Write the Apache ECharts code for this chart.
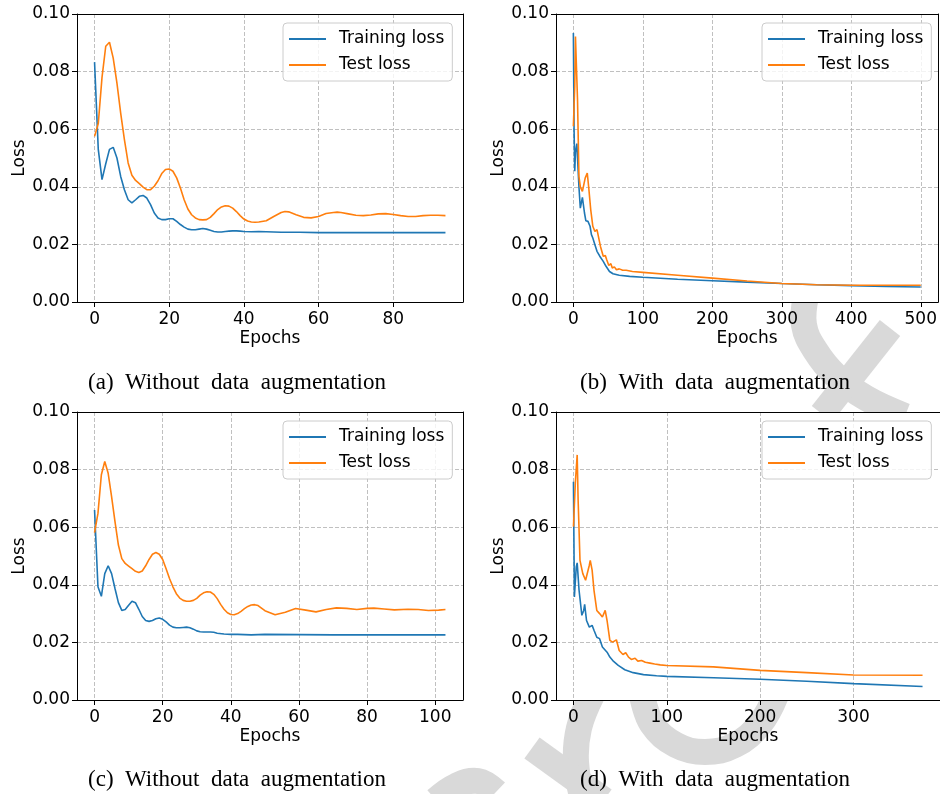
<!DOCTYPE html>
<html>
<head>
<meta charset="utf-8">
<script src="https://cdn.jsdelivr.net/npm/echarts@6/dist/echarts.min.js"></script>
<style>
html, body { margin: 0; padding: 0; background: #fff; }
#main { width: 940px; height: 794px; }
</style>
</head>
<body>
<div id="main"></div>
<script>
var seriesNames = ['Training loss', 'Test loss'];
var captions = ['(a)  Without  data  augmentation', '(b)  With  data  augmentation',
                '(c)  Without  data  augmentation', '(d)  With  data  augmentation'];
var xTicksA = [0, 20, 40, 60, 80];
var xTicksB = [0, 100, 200, 300, 400, 500];
var xTicksC = [0, 20, 40, 60, 80, 100];
var xTicksD = [0, 100, 200, 300];

// (a) no augmentation, 95 epochs
var trainA = [[0,0.0833],[1,0.053],[2,0.0425],[3,0.048],[4,0.053],[5,0.0537],[6,0.050],[7,0.0436],
  [8,0.039],[9,0.0355],[10,0.0344],[11,0.0355],[12,0.0367],[13,0.037],[14,0.0361],[15,0.0338],
  [16,0.0309],[17,0.0292],[18,0.0286],[19,0.0286],[20,0.0289],[21,0.0289],[22,0.028],[23,0.0269],
  [24,0.026],[25,0.0253],[26,0.0251],[27,0.0251],[28,0.0253],[29,0.0255],[30,0.0253],[31,0.0249],
  [32,0.0245],[33,0.0243],[34,0.0243],[35,0.0245],[36,0.0246],[37,0.0247],[38,0.0247],[39,0.0246],
  [40,0.0245],[42,0.0244],[44,0.0245],[46,0.0244],[48,0.0243],[50,0.0242],[55,0.0242],[60,0.0241],
  [70,0.0241],[80,0.0241],[94,0.0241]];
var testA = [[0,0.0575],[1,0.062],[2,0.078],[3,0.0888],[4,0.0902],[5,0.0847],[6,0.076],[7,0.0656],
  [8,0.0564],[9,0.0483],[10,0.044],[11,0.0422],[12,0.0411],[13,0.0399],[14,0.039],[15,0.039],
  [16,0.0402],[17,0.0421],[18,0.0446],[19,0.046],[20,0.0462],[21,0.0454],[22,0.0431],[23,0.0396],
  [24,0.0355],[25,0.0323],[26,0.0303],[27,0.0292],[28,0.0286],[29,0.0285],[30,0.0286],[31,0.0294],
  [32,0.0307],[33,0.0321],[34,0.033],[35,0.0334],[36,0.0333],[37,0.0326],[38,0.0314],[39,0.03],
  [40,0.0288],[41,0.0281],[42,0.0278],[43,0.0277],[44,0.0278],[46,0.0282],[48,0.0297],[50,0.0311],
  [51,0.0314],[52,0.0313],[54,0.0303],[56,0.0294],[58,0.0292],[60,0.0297],[62,0.0307],[64,0.0311],
  [65,0.0312],[66,0.0311],[68,0.0306],[70,0.0301],[72,0.03],[74,0.0302],[76,0.0306],[78,0.0307],
  [80,0.0304],[82,0.03],[84,0.0297],[86,0.0297],[88,0.03],[90,0.0301],[92,0.0301],[94,0.03]];

// (b) with augmentation, 500 epochs
var trainB = [[0,0.0934],[1,0.06],[2,0.0454],[3,0.052],[5,0.055],[6,0.05],[8,0.040],[10,0.0326],
  [13,0.0363],[16,0.0309],[18,0.0282],[21,0.028],[24,0.0263],[26,0.0234],[28,0.0222],[31,0.0199],
  [34,0.0176],[38,0.0159],[43,0.0141],[47,0.0124],[52,0.0106],[57,0.0098],[66,0.0093],[81,0.0089],
  [100,0.0086],[150,0.0079],[200,0.0074],[250,0.0069],[300,0.0064],[350,0.006],[400,0.0057],
  [450,0.0054],[500,0.0052]];
var testB = [[0,0.061],[2,0.075],[3,0.0922],[4,0.092],[6,0.070],[8,0.0436],[10,0.040],[13,0.0384],
  [15,0.039],[17,0.043],[20,0.0448],[22,0.040],[25,0.032],[28,0.0263],[31,0.0245],[34,0.0251],
  [36,0.0245],[39,0.0193],[43,0.0159],[46,0.0161],[48,0.0147],[51,0.0127],[54,0.0133],[56,0.0118],
  [59,0.0122],[62,0.0112],[66,0.0115],[71,0.011],[76,0.011],[85,0.0106],[100,0.0103],[150,0.0093],
  [200,0.0083],[250,0.0073],[300,0.0064],[350,0.006],[400,0.0058],[450,0.0058],[500,0.0058]];

// (c) no augmentation, 104 epochs
var trainC = [[0,0.066],[1,0.0393],[2,0.036],[3,0.0439],[4,0.0466],[5,0.0439],[6,0.0387],[7,0.0338],
  [8,0.0311],[9,0.0314],[10,0.0329],[11,0.0343],[12,0.0338],[13,0.0315],[14,0.029],[15,0.0276],
  [16,0.0273],[17,0.0276],[18,0.0282],[19,0.0285],[20,0.028],[21,0.0271],[22,0.026],[23,0.0253],
  [24,0.0251],[25,0.0251],[26,0.0252],[27,0.0253],[28,0.0251],[29,0.0246],[30,0.024],[31,0.0237],
  [32,0.0236],[34,0.0236],[35,0.0235],[36,0.0232],[38,0.0229],[40,0.0228],[42,0.0228],[44,0.0227],
  [46,0.0226],[50,0.0228],[60,0.0227],[70,0.0226],[80,0.0226],[90,0.0226],[103,0.0226]];
var testC = [[0,0.0581],[1,0.0648],[2,0.0782],[3,0.0828],[4,0.0787],[5,0.0706],[6,0.0619],[7,0.0538],
  [8,0.0491],[9,0.0474],[10,0.0465],[11,0.0456],[12,0.0447],[13,0.0443],[14,0.0448],[15,0.0466],
  [16,0.0488],[17,0.0506],[18,0.0512],[19,0.0506],[20,0.0488],[21,0.0456],[22,0.0422],[23,0.0393],
  [24,0.0369],[25,0.0354],[26,0.0346],[27,0.0343],[28,0.0343],[29,0.0346],[30,0.0353],[31,0.0364],
  [32,0.0372],[33,0.0376],[34,0.0375],[35,0.0367],[36,0.0352],[37,0.0332],[38,0.0315],[39,0.0303],
  [40,0.0297],[41,0.0296],[42,0.03],[43,0.0308],[44,0.0317],[45,0.0325],[46,0.033],[47,0.0331],
  [48,0.0328],[50,0.031],[53,0.0296],[56,0.0305],[59,0.0318],[62,0.0312],[65,0.0306],[68,0.0314],
  [71,0.032],[74,0.0318],[77,0.0314],[80,0.0318],[82,0.0319],[85,0.0316],[88,0.0313],[92,0.0315],
  [95,0.0314],[98,0.0311],[101,0.0312],[103,0.0314]];

// (d) with augmentation, 375 epochs
var trainD = [[0,0.0758],[1,0.0358],[3,0.0462],[4,0.0476],[6,0.0381],[9,0.0294],[11,0.0311],
  [12,0.0332],[14,0.0276],[17,0.0253],[20,0.0259],[22,0.0242],[25,0.0218],[28,0.0213],[31,0.0184],
  [36,0.0166],[39,0.0149],[43,0.0134],[48,0.012],[55,0.0105],[64,0.0095],[75,0.0088],[89,0.0084],
  [100,0.0082],[150,0.0077],[200,0.0072],[250,0.0065],[300,0.0057],[374,0.0047]];
var testD = [[0,0.0602],[2,0.0753],[4,0.0851],[5,0.0695],[7,0.0485],[10,0.0439],[13,0.0416],
  [17,0.0468],[18,0.0485],[20,0.0451],[22,0.0381],[25,0.0311],[28,0.03],[31,0.0288],[34,0.0311],
  [36,0.0276],[39,0.0207],[42,0.0201],[46,0.0209],[49,0.0172],[53,0.0158],[56,0.0164],[59,0.0149],
  [62,0.0141],[66,0.0145],[69,0.0135],[73,0.0137],[77,0.0131],[82,0.0128],[87,0.0125],[93,0.0122],
  [100,0.012],[150,0.0115],[200,0.0103],[250,0.0095],[300,0.0087],[374,0.0086]];

var panels = [
  { train: trainA, test: testA, last: 94,  ticks: xTicksA, left: 77,  top: 14,  cx: 237, cy: 383 },
  { train: trainB, test: testB, last: 500, ticks: xTicksB, left: 556, top: 14,  cx: 715, cy: 383 },
  { train: trainC, test: testC, last: 103, ticks: xTicksC, left: 77,  top: 412, cx: 237, cy: 780 },
  { train: trainD, test: testD, last: 374, ticks: xTicksD, left: 556, top: 412, cx: 715, cy: 780 }
];

var font = 'DejaVu Sans';
var colors = ['#1f77b4', '#ff7f0e'];
var gridLine = { show: true, lineStyle: { color: '#b0b0b0', width: 0.8, type: [4, 2] } };
var spine = { show: true, onZero: false, lineStyle: { color: '#000', width: 1 } };
var grids = [], xAxes = [], yAxes = [], series = [], legends = [], graphics = [];
var frameX = [], frameY = [];

panels.forEach(function (p, i) {
  var pad = p.last * 0.05;
  grids.push({
    left: p.left, top: p.top, width: 386, height: 288,
    show: true, backgroundColor: '#fff', borderWidth: 0
  });
  xAxes.push({
    type: 'value', gridIndex: i, min: -pad, max: p.last + pad,
    name: 'Epochs', nameLocation: 'middle', nameGap: 28,
    nameTextStyle: { fontFamily: font, fontSize: 17, color: '#000' },
    axisLine: spine,
    axisTick: { customValues: p.ticks, length: 5, lineStyle: { color: '#000' } },
    axisLabel: { customValues: p.ticks, margin: 9, fontFamily: font, fontSize: 17, color: '#000' },
    splitLine: gridLine
  });
  yAxes.push({
    type: 'value', gridIndex: i, min: 0, max: 0.1, interval: 0.02,
    name: 'Loss', nameLocation: 'middle', nameGap: 49, nameRotate: 90,
    nameTextStyle: { fontFamily: font, fontSize: 17, color: '#000' },
    axisLine: spine,
    axisTick: { show: true, length: 5, lineStyle: { color: '#000' } },
    axisLabel: { margin: 7, fontFamily: font, fontSize: 17, color: '#000',
      formatter: function (v) { return v.toFixed(2); } },
    splitLine: gridLine
  });
  // top and right spines, drawn after the grid lines
  frameX.push({ type: 'value', gridIndex: i, position: 'top', min: -pad, max: p.last + pad,
    axisLine: spine, axisTick: { show: false }, axisLabel: { show: false }, splitLine: { show: false } });
  frameY.push({ type: 'value', gridIndex: i, position: 'right', min: 0, max: 0.1,
    axisLine: spine, axisTick: { show: false }, axisLabel: { show: false }, splitLine: { show: false } });

  [p.train, p.test].forEach(function (d, k) {
    series.push({
      name: seriesNames[k], type: 'line', xAxisIndex: i, yAxisIndex: i,
      data: d, showSymbol: false, symbol: 'none', clip: true,
      lineStyle: { color: colors[k], width: 1.6 }, itemStyle: { color: colors[k] },
      emphasis: { disabled: true }
    });
  });
  legends.push({
    left: p.left + 206, top: p.top + 9, orient: 'vertical',
    data: seriesNames, icon: 'rect', itemWidth: 37, itemHeight: 2, itemGap: 6,
    padding: [6, 8, 6, 6],
    backgroundColor: 'rgba(255,255,255,0.8)', borderColor: '#cccccc', borderWidth: 1, borderRadius: 4,
    textStyle: { fontFamily: font, fontSize: 17, color: '#000', lineHeight: 20, padding: [0, 0, 0, 8] }
  });
  graphics.push({
    type: 'text', x: p.cx, y: p.cy, z: 50,
    style: { text: captions[i], fontFamily: 'Liberation Serif', fontSize: 23,
      fill: '#000', align: 'center', verticalAlign: 'middle' }
  });
});

// faint watermark strokes behind the plot areas
var wm = { stroke: '#d9d9d9', fill: null, lineWidth: 26, lineCap: 'butt' };
[
  [[806, 296], [804, 325], [815, 350], [836, 376], [866, 398], [905, 416]],
  [[890, 328], [822, 414]],
  [[642, 695], [652, 724], [676, 745], [705, 752], [735, 745], [760, 724], [776, 695]],
  [[592, 695], [579, 728], [576, 762], [583, 800]],
  [[532, 748], [604, 800]],
  [[436, 800], [456, 786], [478, 781], [496, 792]]
].forEach(function (pts) {
  graphics.push({ type: 'polyline', z: -10, silent: true,
    shape: { points: pts, smooth: pts.length > 2 ? 0.4 : 0 }, style: wm });
});

var chart = echarts.init(document.getElementById('main'), null, { renderer: 'canvas' });
chart.setOption({
  animation: false,
  backgroundColor: '#fff',
  grid: grids, xAxis: xAxes.concat(frameX), yAxis: yAxes.concat(frameY),
  series: series, legend: legends, graphic: graphics
});
</script>
</body>
</html>
